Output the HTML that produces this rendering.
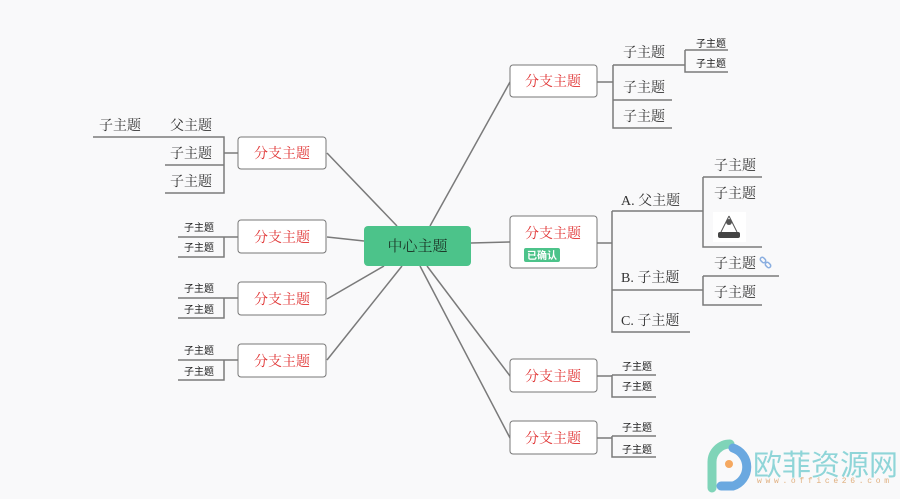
<!DOCTYPE html>
<html><head><meta charset="utf-8"><style>
html,body{margin:0;padding:0;background:#f9f9fa;}
svg{display:block;font-family:"Liberation Serif","Noto Serif CJK SC",serif;}
.s{font-family:"Liberation Sans","Noto Sans CJK SC",sans-serif;font-size:10px;fill:#222}
.m{font-size:14px;fill:#333}
.r{font-size:14px;fill:#e03030}
</style></head><body>
<svg width="900" height="499" viewBox="0 0 900 499">
<g stroke="#7a7a7a" stroke-width="1.5" fill="none">
<line x1="327" y1="153" x2="397" y2="226"/>
<line x1="327" y1="237" x2="364" y2="241"/>
<line x1="327" y1="299" x2="384" y2="266"/>
<line x1="327" y1="360" x2="402" y2="266"/>
<line x1="430" y1="226" x2="510" y2="82"/>
<line x1="471" y1="243" x2="510" y2="242"/>
<line x1="427" y1="266" x2="510" y2="376"/>
<line x1="420" y1="266" x2="510" y2="438"/>
<line x1="224" y1="153" x2="238" y2="153"/>
<path d="M93 137H224V193H165M224 165H165"/>
<path d="M224 237H238M178 237H224V257H178"/>
<path d="M224 298H238M178 298H224V318H178"/>
<path d="M224 360H238M178 360H224V380H178"/>
<path d="M597 82H613M613 65V128H672M613 100H672M613 65H685M685 50V72H728M685 50H728"/>
<path d="M597 243H612M612 211V332H690M612 211H703M612 290H703M703 177V247H762M703 177H762M703 276V305H762M703 276H779"/>
<path d="M597 376H612M612 375V397H656M612 375H656"/>
<path d="M597 438H612M612 436V457H656M612 436H656"/>
</g>
<rect x="364" y="226" width="107" height="40" rx="4" fill="#4cc38a"/>
<text x="417.5" y="251" text-anchor="middle" font-size="15" fill="#1d3a2a">中心主题</text>
<g fill="#fff" stroke="#777" stroke-width="1">
<rect x="238" y="137" width="88" height="32" rx="3"/>
<rect x="238" y="220" width="88" height="33" rx="3"/>
<rect x="238" y="282" width="88" height="33" rx="3"/>
<rect x="238" y="344" width="88" height="33" rx="3"/>
<rect x="510" y="65" width="87" height="32" rx="3"/>
<rect x="510" y="216" width="87" height="52" rx="3"/>
<rect x="510" y="359" width="87" height="33" rx="3"/>
<rect x="510" y="421" width="87" height="33" rx="3"/>
</g>
<g class="r" text-anchor="middle">
<text x="282" y="158">分支主题</text>
<text x="282" y="242">分支主题</text>
<text x="282" y="304">分支主题</text>
<text x="282" y="366">分支主题</text>
<text x="553" y="86">分支主题</text>
<text x="553" y="238">分支主题</text>
<text x="553" y="381">分支主题</text>
<text x="553" y="443">分支主题</text>
</g>
<rect x="524" y="248" width="36" height="14" rx="2" fill="#4cc38a"/>
<text x="542" y="259" text-anchor="middle" font-size="10" font-weight="bold" fill="#fff" font-family="Liberation Sans,Noto Sans CJK SC,sans-serif">已确认</text>
<g class="m">
<text x="99" y="130">子主题</text><text x="170" y="130">父主题</text>
<text x="170" y="158">子主题</text><text x="170" y="186">子主题</text>
<text x="623" y="57">子主题</text><text x="623" y="92">子主题</text><text x="623" y="121">子主题</text>
<text x="621" y="205">A. 父主题</text>
<text x="621" y="282">B. 子主题</text>
<text x="621" y="325">C. 子主题</text>
<text x="714" y="170">子主题</text><text x="714" y="198">子主题</text>
<text x="714" y="268">子主题</text><text x="714" y="297">子主题</text>
</g>
<g class="s">
<text x="696" y="47">子主题</text><text x="696" y="67">子主题</text>
<text x="184" y="231">子主题</text><text x="184" y="251">子主题</text>
<text x="184" y="292">子主题</text><text x="184" y="313">子主题</text>
<text x="184" y="354">子主题</text><text x="184" y="375">子主题</text>
<text x="622" y="370">子主题</text><text x="622" y="390">子主题</text>
<text x="622" y="431">子主题</text><text x="622" y="453">子主题</text>
</g>
<rect x="713" y="212" width="33" height="30" fill="#fff"/>
<path d="M729 216L721 232M729 216L737 232" stroke="#555" fill="none"/>
<circle cx="729" cy="222" r="3" fill="#555"/>
<rect x="718" y="232" width="22" height="6" rx="2" fill="#444"/>
<g stroke="#8aaee0" stroke-width="1.5" fill="none"><rect x="760" y="258" width="6" height="4" rx="2" transform="rotate(45 763 260)"/><rect x="765" y="263" width="6" height="4" rx="2" transform="rotate(45 768 265)"/></g>
<path d="M712 488V462a18 18 0 0 1 18-18" stroke="#7fd4b8" stroke-width="9" fill="none" stroke-linecap="round"/>
<path d="M733 448a20 20 0 0 1 0 38h-12" stroke="#6aa8e0" stroke-width="9" fill="none" stroke-linecap="round"/>
<circle cx="729" cy="464" r="4" fill="#f5a860"/>
<text x="753" y="475" font-size="29" fill="#8fd5d8" font-family="Liberation Sans,Noto Sans CJK SC,sans-serif">欧菲资源网</text>
<text x="757" y="483" font-size="8" fill="#e0b080" textLength="132" lengthAdjust="spacing" font-family="Liberation Mono,monospace">www.office26.com</text>
</svg>
</body></html>
